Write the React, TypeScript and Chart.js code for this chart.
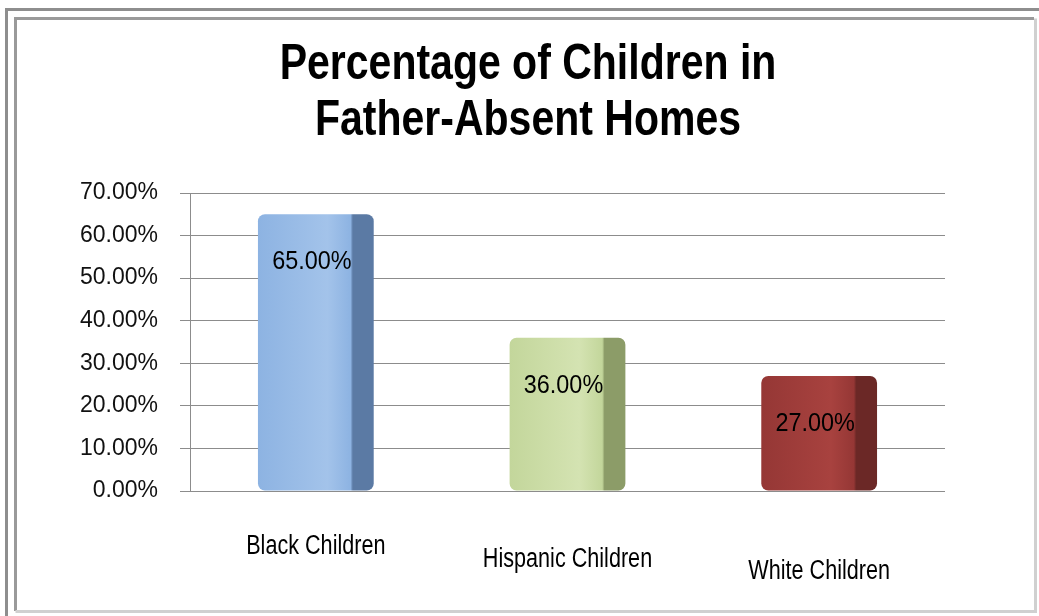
import React, { useEffect, useRef } from "react";
import { Chart, registerables } from "chart.js";

Chart.register(...registerables);

const categories = ["Black Children", "Hispanic Children", "White Children"];
const values = [65, 36, 27];
const titleLines = ["Percentage of Children in", "Father-Absent Homes"];
const yMin = 0;
const yMax = 70;
const yStep = 10;
const frontColors = ["#8db3e2", "#c3d69b", "#953735"];
const lightColors = ["#a3c3ea", "#d4e3b2", "#a8423f"];
const sideColors = ["#5b7aa4", "#8c9c68", "#6b2826"];

const BAR_PCT = 0.46;

function drawNarrow(ctx: CanvasRenderingContext2D, text: string, x: number, y: number, font: string, sx: number) {
  ctx.save();
  ctx.translate(x, y);
  ctx.scale(sx, 1);
  ctx.font = font;
  ctx.textAlign = "center";
  ctx.textBaseline = "alphabetic";
  ctx.fillStyle = "#000";
  ctx.fillText(text, 0, 0);
  ctx.restore();
}

const framePlugin = {
  id: "frame",
  beforeDraw(chart: any) {
    const ctx = chart.ctx as CanvasRenderingContext2D;
    const W = chart.width;
    const H = chart.height;
    ctx.save();
    ctx.fillStyle = "#ffffff";
    ctx.fillRect(0, 0, W, H);
    ctx.strokeStyle = "#8e8e8e";
    ctx.lineWidth = 3;
    ctx.beginPath();
    ctx.moveTo(6.5, H);
    ctx.lineTo(6.5, 9.5);
    ctx.lineTo(W, 9.5);
    ctx.stroke();
    ctx.strokeStyle = "#9a9a9a";
    ctx.beginPath();
    ctx.moveTo(15.5, 611);
    ctx.lineTo(15.5, 18.5);
    ctx.lineTo(1034, 18.5);
    ctx.stroke();
    ctx.strokeStyle = "#d0d0d0";
    ctx.beginPath();
    ctx.moveTo(1035.5, 18.5);
    ctx.lineTo(1035.5, 611.5);
    ctx.lineTo(15.5, 611.5);
    ctx.stroke();
    ctx.restore();
  },
};

const textPlugin = {
  id: "texts",
  afterDatasetsDraw(chart: any) {
    const ctx = chart.ctx as CanvasRenderingContext2D;
    drawNarrow(ctx, titleLines[0], 528, 79, "bold 50px 'Liberation Sans'", 0.82);
    drawNarrow(ctx, titleLines[1], 528, 135, "bold 50px 'Liberation Sans'", 0.82);
    const meta = chart.getDatasetMeta(0);
    meta.data.forEach((bar: any, i: number) => {
      drawNarrow(ctx, values[i].toFixed(2) + "%", bar.x - 4, bar.y + 55, "26px 'Liberation Sans'", 0.9);
    });
    const xs = chart.scales.x;
    categories.forEach((c, i) => {
      const x = xs.getPixelForValue(i);
      const y = 554 + (x - 314) * 0.05;
      drawNarrow(ctx, c, x, y, "27px 'Liberation Sans'", 0.8);
    });
  },
};

function barGradient(c: any) {
  const chart = c.chart;
  const i = c.dataIndex ?? 0;
  const xs = chart.scales?.x;
  if (!xs || !chart.chartArea) return frontColors[i];
  const cx = xs.getPixelForValue(i);
  const w = ((xs.right - xs.left) / categories.length) * BAR_PCT;
  const g = chart.ctx.createLinearGradient(cx - w / 2, 0, cx + w / 2, 0);
  g.addColorStop(0, frontColors[i]);
  g.addColorStop(0.6, lightColors[i]);
  g.addColorStop(0.8, frontColors[i]);
  g.addColorStop(0.82, sideColors[i]);
  g.addColorStop(1, sideColors[i]);
  return g;
}

export default function App() {
  const ref = useRef<HTMLCanvasElement | null>(null);
  useEffect(() => {
    document.body.style.margin = "0";
    const canvas = ref.current!;
    const chart = new Chart(canvas, {
      type: "bar",
      data: {
        labels: categories,
        datasets: [
          {
            data: values,
            backgroundColor: barGradient as any,
            borderRadius: 7,
            borderSkipped: false,
            barPercentage: BAR_PCT,
            categoryPercentage: 1,
          },
        ],
      },
      options: {
        responsive: false,
        animation: false,
        devicePixelRatio: 1,
        layout: { padding: { left: 60, right: 94, top: 193, bottom: 125 } },
        plugins: {
          legend: { display: false },
          title: { display: false },
          tooltip: { enabled: false },
        },
        scales: {
          x: {
            ticks: { display: false },
            grid: { display: false, drawTicks: false },
            border: { display: false },
            afterFit: (s: any) => {
              s.height = 0;
            },
          },
          y: {
            min: yMin,
            max: yMax,
            ticks: {
              stepSize: yStep,
              padding: 22,
              color: "#111",
              font: { family: "'Liberation Sans'", size: 23 },
              callback: (v: any) => Number(v).toFixed(2) + "%",
            },
            grid: { color: "#8c8c8c", lineWidth: 1, tickLength: 10, tickColor: "#8c8c8c" },
            border: { display: true, color: "#8c8c8c", width: 1 },
            afterFit: (s: any) => {
              s.width = 130;
            },
          },
        },
      },
      plugins: [framePlugin, textPlugin],
    });
    return () => chart.destroy();
  }, []);
  return (
    <div style={{ position: "absolute", left: 0, top: 0, width: 1039, height: 616 }}>
      <canvas ref={ref} width={1039} height={616} style={{ display: "block" }} />
    </div>
  );
}
